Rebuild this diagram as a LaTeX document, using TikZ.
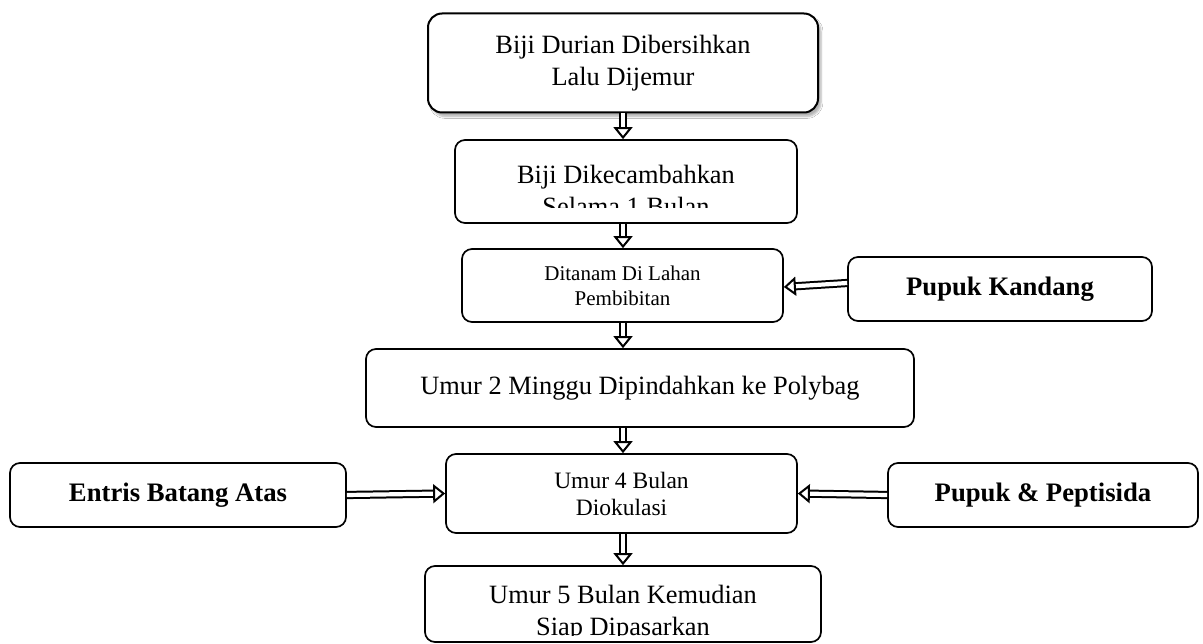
\documentclass[tikz,border=0pt]{standalone}
\usepackage{fontspec}
\setmainfont{Liberation Serif}
\usetikzlibrary{arrows.meta,shadows.blur}
\begin{document}
\begin{tikzpicture}[x=1pt,y=-1pt,
  box/.style={draw, line width=1.7pt, rounded corners=10pt, inner sep=0pt, align=center, fill=white},
  flow/.style={double, double distance=4.2pt, line width=2pt,
    -{Triangle[open, fill=white, length=12pt, width=19pt, line width=2pt]}},
  fa/.style={font=\fontsize{26.4}{32}\selectfont},
  fb/.style={font=\fontsize{21}{25}\selectfont},
  fc/.style={font=\fontsize{23.5}{27}\selectfont},
  fbold/.style={font=\fontsize{26.7}{32}\selectfont\bfseries},
  txt/.style={inner sep=0pt, align=center}]
\useasboundingbox (0,0) rectangle (1203,644);
\fill[white] (0,0) rectangle (1203,644);

\node[box, fa, line width=2pt, rounded corners=14pt, minimum width=390pt, minimum height=99pt,
  blur shadow={shadow xshift=3pt, shadow yshift=-4pt, shadow blur steps=6, shadow opacity=30}]
  (b1) at (623,63) {Biji Durian Dibersihkan\\Lalu Dijemur};

\node[box, minimum width=342pt, minimum height=83pt] (b2) at (626,181.5) {};
\begin{scope}
  \clip (455,140) rectangle (797,208);
  \node[txt, fa] (t2) at (626,190) {Biji Dikecambahkan\\Selama 1 Bulan};
\end{scope}

\node[box, fb, minimum width=321pt, minimum height=73pt] (b3) at (622.5,285.5) {Ditanam Di Lahan\\Pembibitan};
\node[box, fbold, minimum width=304pt, minimum height=64pt] (pk) at (1000,289) {Pupuk Kandang};

\node[box, fa, minimum width=548pt, minimum height=78pt] (b4) at (640,388) {Umur 2 Minggu Dipindahkan ke Polybag};

\node[box, fc, minimum width=351pt, minimum height=79pt] (b5) at (621.5,493.5) {Umur 4 Bulan\\Diokulasi};
\node[box, fbold, minimum width=336pt, minimum height=64pt] (en) at (178,495) {Entris Batang Atas};
\node[box, fbold, minimum width=310pt, minimum height=64pt] (pp) at (1043,495) {Pupuk \& Peptisida};

\node[box, minimum width=396pt, minimum height=76pt] (b6) at (623,604) {};
\begin{scope}
  \clip (425,566) rectangle (821,635);
  \node[txt, fa] (t6) at (623,613) {Umur 5 Bulan Kemudian\\Siap Dipasarkan};
\end{scope}

\coordinate (ax) at (623,0);
\draw[flow] (b1.south -| ax) -- (b2.north -| ax);
\draw[flow] (b2.south -| ax) -- (b3.north -| ax);
\draw[flow] (b3.south -| ax) -- (b4.north -| ax);
\draw[flow] (b4.south -| ax) -- (b5.north -| ax);
\draw[flow] (b5.south -| ax) -- (b6.north -| ax);
\draw[flow] ([yshift=6pt]pk.west) -- ([yshift=-1.5pt]b3.east);
\draw[flow] (en.east) -- (b5.west);
\draw[flow] (pp.west) -- (b5.east);
\end{tikzpicture}
\end{document}
